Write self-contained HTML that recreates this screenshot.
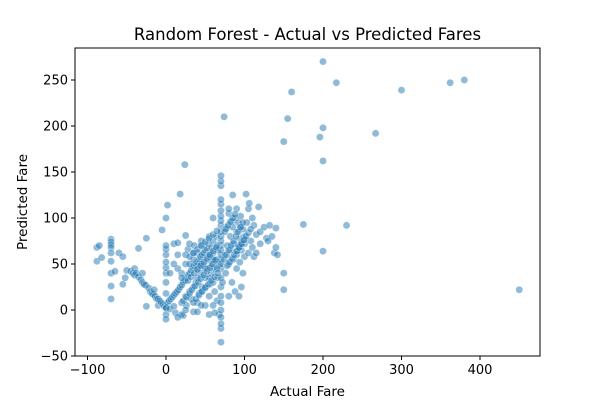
<!DOCTYPE html>
<html><head><meta charset="utf-8"><style>
body{margin:0;background:#fff;}
svg text{font-family:"DejaVu Sans","Liberation Sans",sans-serif;fill:#000;}
</style></head><body>
<svg id="chart" width="600" height="400" viewBox="0 0 600 400" xmlns="http://www.w3.org/2000/svg">
<rect width="600" height="400" fill="#fff"/>
<text x="307.5" y="40" font-size="16.5" text-anchor="middle">Random Forest - Actual vs Predicted Fares</text>
<g id="points"></g>
<rect x="75" y="48" width="465" height="308" fill="none" stroke="#000" stroke-width="1"/>
<g id="axes"></g>
<text x="307.5" y="396" font-size="13.5" text-anchor="middle">Actual Fare</text>
<text transform="translate(27,202) rotate(-90)" font-size="13.5" text-anchor="middle">Predicted Fare</text>
</svg>
<script>
const xTicks=[-100,0,100,200,300,400];
const yTicks=[-50,0,50,100,150,200,250];
const actualFare=[-88,-88,-85,-82,-70,-70,-70,-70,-70,-70,-70,-70,-70,-65,-60,-55,-55,-52,-50,-45,-42,-40,-40,-38,-35,-35,-32,-30,-30,-28,-26,-25,-25,-22,-20,-18,-16,-15,-14,-12,-10,-10,-8,-6,-5,-4,-2,0,0,0,0,0,0,0,0,0,0,0,0,0,2,2,4,5,6,8,10,10,10,12,12,14,15,16,18,18,20,20,22,22,24,24,25,26,26,28,28,30,30,30,32,32,34,35,36,36,38,38,40,40,40,42,42,44,44,45,46,46,48,48,50,50,50,52,52,54,54,55,56,56,58,58,60,60,60,62,62,64,64,65,66,66,68,68,
70,70,70,70,70,70,70,70,70,70,70,70,70,70,70,70,70,70,70,70,70,70,70,70,70,70,70,72,74,
75,76,78,78,80,80,80,82,82,84,84,85,86,86,88,88,90,90,90,90,92,92,93,94,94,95,96,96,98,98,100,100,100,102,103,105,105,106,108,110,112,112,115,115,118,120,120,125,128,130,132,135,138,140,142,150,150,140,
20,25,30,35,40,45,50,55,60,45,50,35,25,40,55,60,65,20,15,10,5,15,25,35,45,55,65,75,85,95,110,60,80,40,55,60,62,45,35,20,15,25,
22,26,30,33,37,41,44,48,52,56,59,63,28,32,36,40,44,48,52,56,60,64,38,42,46,50,54,58,62,66,30,35,40,45,50,55,60,65,
74,77,80,83,86,89,92,95,98,76,79,82,85,88,91,94,97,100,78,81,84,87,90,93,96,99,102,105,108,
450,380,362,300,267,230,217,200,200,200,200,196,175,160,155,150];
const predictedFare=[53,68,70,57,77,74,71,68,62,53,40,26,12,42,62,58,28,35,43,42,40,45,38,40,67,36,33,30,40,28,27,78,4,24,20,18,17,22,15,12,12,5,10,8,87,6,4,3,-5,-10,2,18,30,40,46,52,60,66,70,100,114,8,10,1,12,14,16,4,72,18,-3,20,73,22,25,126,27,8,30,-6,158,32,81,35,5,38,66,40,20,72,43,12,46,-2,48,70,50,30,52,8,62,55,18,58,40,70,60,25,62,48,65,35,5,67,54,45,72,15,58,28,68,40,62,50,75,20,45,55,80,10,65,35,50,-5,
-35,-20,-15,-8,0,8,15,25,35,45,50,55,60,65,70,75,80,85,92,97,102,108,115,120,135,140,146,30,210,
60,40,70,90,105,50,15,65,80,96,30,125,55,72,100,20,60,85,110,45,70,95,15,52,78,102,65,25,88,40,72,58,80,126,95,62,110,116,75,68,58,92,82,62,112,85,72,90,78,75,92,80,62,89,60,40,22,68,
40,50,50,55,45,50,45,60,30,20,25,25,15,35,35,55,45,35,45,50,40,60,60,62,75,80,70,85,90,90,100,100,110,-2,-5,5,-3,5,8,-5,-8,0,
10,14,18,22,26,30,34,38,42,46,50,54,32,36,40,44,48,52,56,60,64,68,12,16,20,24,28,32,36,40,58,62,66,70,74,78,82,86,
55,60,65,70,75,80,85,90,95,88,92,96,100,104,64,68,72,76,48,52,56,60,64,68,72,76,80,84,88,
22,250,247,239,192,92,247,270,198,162,64,188,93,237,208,183];
const X0=75,X1=540,Y0=48,Y1=356;
function xs(v){return 166+(v-0)*0.785;}
function ys(v){return 310-v*0.92;}
const NS="http://www.w3.org/2000/svg";
const pg=document.getElementById('points');
for(let i=0;i<actualFare.length;i++){
  const c=document.createElementNS(NS,'circle');
  c.setAttribute('cx',xs(actualFare[i]));c.setAttribute('cy',ys(predictedFare[i]));
  c.setAttribute('r',3.6);c.setAttribute('fill','rgba(31,119,180,0.5)');
  c.setAttribute('stroke','rgba(255,255,255,0.5)');c.setAttribute('stroke-width','0.6');
  
  
  pg.appendChild(c);
}
const ax=document.getElementById('axes');
xTicks.forEach(t=>{
  const x=xs(t);
  const l=document.createElementNS(NS,'line');
  l.setAttribute('x1',x);l.setAttribute('x2',x);l.setAttribute('y1',Y1);l.setAttribute('y2',Y1+4);l.setAttribute('stroke','#000');
  
  
  ax.appendChild(l);
  const tx=document.createElementNS(NS,'text');
  tx.setAttribute('x',x);tx.setAttribute('y',Y1+18);tx.setAttribute('font-size','13');tx.setAttribute('text-anchor','middle');
  tx.textContent=(t<0?'\u2212'+(-t):t);
  
  
  ax.appendChild(tx);
});
yTicks.forEach(t=>{
  const y=ys(t);
  const l=document.createElementNS(NS,'line');
  l.setAttribute('x1',X0-4);l.setAttribute('x2',X0);l.setAttribute('y1',y);l.setAttribute('y2',y);l.setAttribute('stroke','#000');
  
  
  ax.appendChild(l);
  const tx=document.createElementNS(NS,'text');
  tx.setAttribute('x',X0-7);tx.setAttribute('y',y+4.5);tx.setAttribute('font-size','13');tx.setAttribute('text-anchor','end');
  tx.textContent=(t<0?'\u2212'+(-t):t);
  
  
  ax.appendChild(tx);
});
</script>
</body></html>
